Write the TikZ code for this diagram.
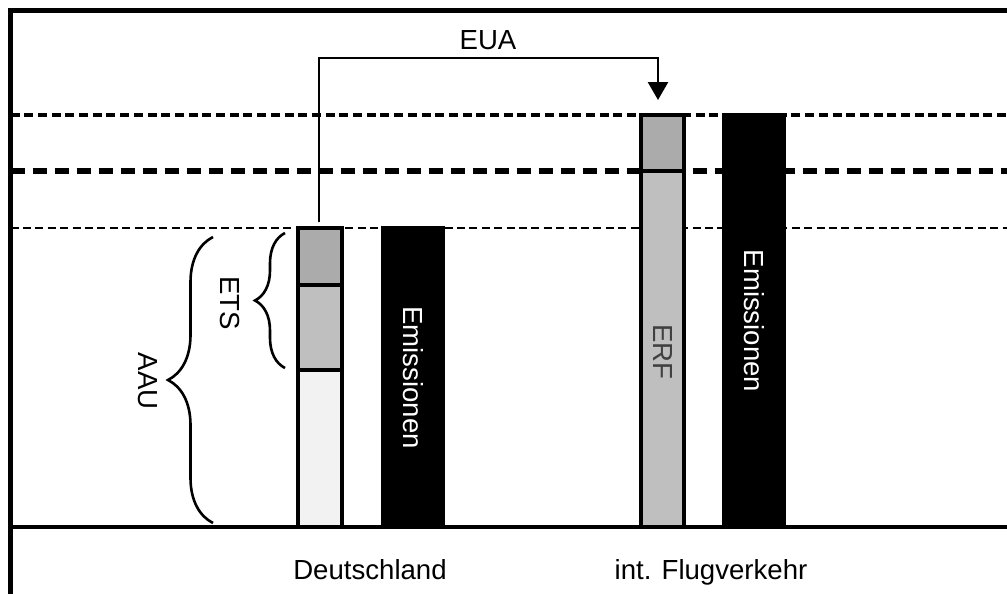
\documentclass[tikz,border=0pt]{standalone}
\usepackage{fontspec}
\setmainfont{Liberation Sans}
\usetikzlibrary{arrows.meta, decorations.pathreplacing}

\begin{document}
\begin{tikzpicture}[
  x=0.5pt, y=-0.5pt,
  font=\fontsize{13.8}{16}\selectfont,
  frame/.style={line width=2.2pt},
  bar/.style={draw, line width=1.7pt},
  lvltop/.style={line width=2.1pt, dash pattern=on 4.5pt off 2.35pt},
  lvlmid/.style={line width=2.9pt, dash pattern=on 7pt off 4pt},
  lvllow/.style={line width=1.4pt, dash pattern=on 4pt off 2.2pt},
  arr/.style={-{Triangle[length=9pt, width=10pt]}, line width=1.3pt},
  brc/.style={decorate, decoration={brace, amplitude=#1}, line width=1.3pt},
  vlb/.style={rotate=-90, inner sep=0pt}]

  \useasboundingbox (0,0) rectangle (1007,594);

  % frame and base line
  \draw[frame] (10.5,594) -- (10.5,10.5) -- (1007,10.5);
  \draw[line width=1.8pt] (10.5,527) -- (1007,527);

  % levels
  \draw[lvltop] (10.5,115) -- (1007,115);
  \draw[lvlmid] (10.5,171) -- (1007,171);
  \draw[lvllow] (10.5,228) -- (1007,228);

  % Deutschland
  \draw[bar, fill=black!5]  (298,370) rectangle (342,527);
  \draw[bar, fill=black!25] (298,285) rectangle (342,370);
  \draw[bar, fill=black!33] (298,228) rectangle (342,285);
  \draw[bar, fill=black]    (383,228) rectangle (443,527);
  \node[vlb, white] (em-de) at (413,377.5) {Emissionen};

  % int. Flugverkehr
  \draw[bar, fill=black!25] (641,171) rectangle (684,527);
  \draw[bar, fill=black!33] (641,115) rectangle (684,171);
  \node[vlb, black!75] (erf) at (662.5,352) {ERF};
  \draw[bar, fill=black]    (724,115) rectangle (784,527);
  \node[vlb, white] (em-fl) at (754,321) {Emissionen};

  % braces
  \draw[brc=15pt] (285,368) -- (285,233);
  \node[vlb] (ets) at (230,303) {ETS};
  \draw[brc=22.5pt] (213,523) -- (213,237);
  \node[vlb] (aau) at (148,381) {AAU};

  % transfer
  \coordinate (de-top) at (319,222);
  \coordinate (eua-bend) at (319,58);
  \coordinate (erf-top) at (658,100);
  \draw[arr] (de-top) -- (eua-bend) -| (erf-top);
  \node (eua) at (488,40) {EUA};

  \node[anchor=base] (de) at (370,579) {Deutschland};
  \node[anchor=base] (fl) at (711,579) {int. Flugverkehr};
\end{tikzpicture}
\end{document}
